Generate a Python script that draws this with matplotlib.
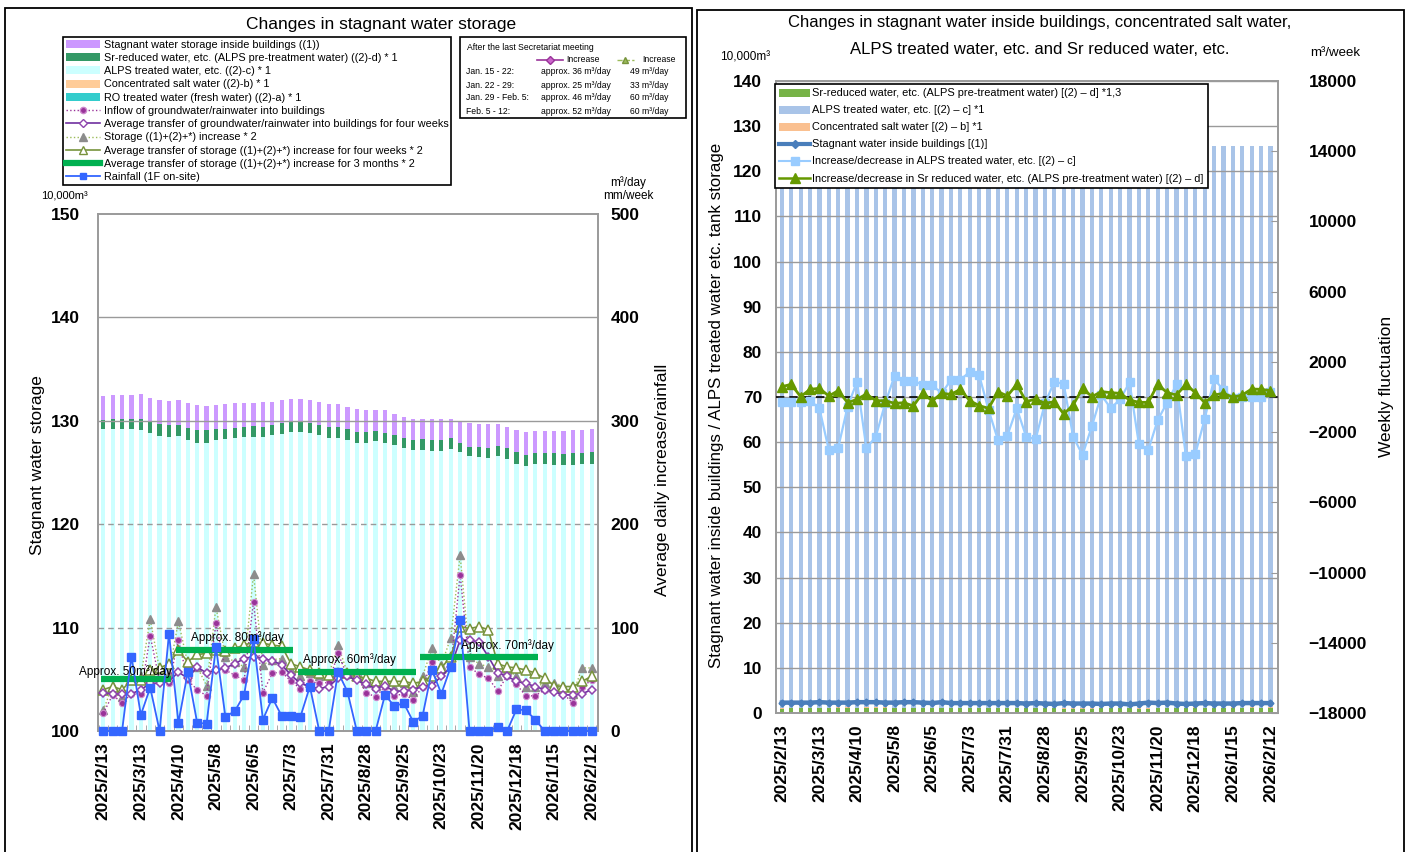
import numpy as np
import pandas as pd
import matplotlib
matplotlib.use('Agg')
import matplotlib.pyplot as plt
from matplotlib.patches import Rectangle, Patch
from matplotlib.lines import Line2D

# ---------------- data ----------------
weeks = pd.date_range('2025-02-13', periods=53, freq='7D')
tick_idx = list(range(0, 53, 4))
tick_labels = ['2025/2/13', '2025/3/13', '2025/4/10', '2025/5/8', '2025/6/5', '2025/7/3',
               '2025/7/31', '2025/8/28', '2025/9/25', '2025/10/23', '2025/11/20',
               '2025/12/18', '2026/1/15', '2026/2/12']

# storage, 10,000 m3
ro_water = [0.1] * 53
conc_salt = [0.1] * 53
alps = [129.0, 129.0, 129.0, 129.0, 128.9, 128.6, 128.3, 128.2, 128.3, 127.9,
        127.7, 127.7, 127.9, 128.0, 128.1, 128.2, 128.2, 128.2, 128.4, 128.5,
        128.7, 128.7, 128.6, 128.4, 128.1, 128.1, 127.9, 127.7, 127.7, 127.8,
        127.7, 127.5, 127.2, 127.0, 127.0, 126.9, 126.9, 127.1, 126.8, 126.4,
        126.3, 126.2, 126.4, 126.1, 125.6, 125.4, 125.6, 125.6, 125.5, 125.5,
        125.5, 125.6, 125.6]
sr_water = [0.9, 1.0, 1.0, 1.0, 1.1, 1.1, 1.2, 1.2, 1.1, 1.2,
            1.2, 1.2, 1.1, 1.0, 1.0, 1.0, 1.1, 1.0, 1.0, 1.1,
            1.0, 1.0, 1.0, 1.0, 1.1, 1.1, 1.1, 1.0, 1.0, 1.0,
            0.9, 0.9, 0.9, 0.9, 1.0, 1.0, 1.0, 1.0, 0.9, 0.9,
            1.0, 1.0, 1.0, 1.1, 1.2, 1.1, 1.1, 1.1, 1.2, 1.1,
            1.2, 1.1, 1.2]
stagnant = [2.3, 2.3, 2.3, 2.3, 2.4, 2.3, 2.3, 2.3, 2.4, 2.4,
            2.4, 2.3, 2.3, 2.4, 2.4, 2.3, 2.2, 2.4, 2.2, 2.2,
            2.2, 2.2, 2.2, 2.2, 2.2, 2.2, 2.1, 2.2, 2.1, 2.0,
            2.2, 2.1, 2.1, 2.1, 2.0, 2.1, 2.1, 1.9, 2.1, 2.3,
            2.2, 2.3, 2.1, 2.0, 2.1, 2.2, 2.1, 2.1, 2.1, 2.2,
            2.2, 2.2, 2.2]

# m3/day, mm/week
inflow = [17, 35, 27, 36, 36, 92, 48, 46, 88, 49, 40, 34, 104, 59, 54, 49, 125, 37, 56, 57,
          48, 41, 48, 46, 47, 75, 53, 53, 37, 33, 43, 34, 36, 30, 43, 67, 54, 62, 151, 62,
          55, 51, 39, 53, 45, 34, 34, 40, 40, 36, 27, 43, 49]
inflow_avg = [37, 36, 36, 36, 40, 46, 46, 48, 57, 51, 62, 56, 59, 61, 65, 70, 72, 70, 68, 64,
              54, 46, 43, 41, 43, 51, 53, 49, 45, 41, 44, 38, 39, 40, 43, 44, 53, 62, 88, 88,
              86, 72, 56, 53, 48, 46, 43, 40, 38, 35, 35, 36, 40]
storage_inc = [20, 44, 33, 49, 53, 108, 59, 56, 106, 65, 62, 44, 120, 72, 67, 62, 152, 64, 69, 70,
               59, 53, 56, 53, 54, 83, 56, 57, 46, 44, 49, 43, 46, 38, 53, 80, 64, 90, 170, 72,
               65, 62, 53, 59, 53, 43, 43, 46, 46, 44, 36, 61, 61]
storage_avg = [40, 43, 40, 49, 49, 59, 61, 65, 78, 67, 74, 75, 78, 77, 80, 83, 86, 85, 83, 82,
               65, 62, 59, 56, 54, 56, 56, 53, 51, 48, 48, 48, 48, 46, 48, 53, 61, 72, 101, 99,
               101, 98, 65, 62, 61, 59, 56, 51, 44, 43, 43, 48, 53]
rainfall = [0, 0, 0, 72, 15.5, 42, 0, 94, 8, 57, 8, 7, 81.5, 14, 19, 35, 89, 11, 32, 14.5,
            14.5, 14, 43, 0, 0, 57, 38, 0, 0, 0, 35, 24, 27, 9, 14.5, 59, 36, 62, 107, 0,
            0, 0, 4, 0, 21, 20, 11, 0, 0, 0, 0, 0, 0]
q3_start = [0, 8, 21, 34]
q3_end = [7, 20, 33, 46]
q3_value = [50, 78, 57, 72]
q3_labels = ['Approx. 50m³/day', 'Approx. 80m³/day', 'Approx. 60m³/day', 'Approx. 70m³/day']

# m3/week
alps_delta = [-266, -266, -266, -209, -645, -3019, -2886, -551, 873, -2924,
              -2259, -361, 1215, 911, 930, 684, 684, 209, 968, 968,
              1443, 1253, -740, -2449, -2202, -645, -2259, -2411, -361, 873,
              740, -2259, -3304, -1652, 114, -645, -133, 835, -2696, -3019,
              -1310, -323, 740, -3361, -3247, -1253, 1025, 399, -76, 19,
              19, 19, 304]
sr_delta = [589, 721, 19, 437, 494, 57, 361, -323, -133, 171,
            -209, -209, -361, -323, -513, 247, -228, 209, 152, 437,
            -209, -494, -645, 304, 57, 721, -266, -114, -361, -266,
            -968, -456, 494, 19, 304, 247, 209, -171, -304, -304,
            721, 247, 114, 721, 247, -323, 114, 209, -19, 114,
            456, 437, 361]

table_rows = ['Jan. 15 - 22:', 'Jan. 22 - 29:', 'Jan. 29 - Feb. 5:', 'Feb. 5 - 12:']
table_inflow = ['approx. 36 m³/day', 'approx. 25 m³/day', 'approx. 46 m³/day', 'approx. 52 m³/day']
table_storage = ['49 m³/day', '33 m³/day', '60 m³/day', '60 m³/day']

# ---------------- style ----------------
plt.rcParams['font.family'] = ['Liberation Sans', 'DejaVu Sans']
NARROW = ['Liberation Sans Narrow', 'Liberation Sans', 'DejaVu Sans']
W, H = 1411, 852
fig = plt.figure(figsize=(W / 100, H / 100), dpi=100)


def fx(px):
    return px / W


def fy(py):
    return 1 - py / H


# panel frames
fig.add_artist(Rectangle((fx(5), -0.02), fx(692) - fx(5), fy(8) + 0.02,
                         transform=fig.transFigure, fill=False, ec='black', lw=1.3))
fig.add_artist(Rectangle((fx(697), -0.02), fx(1404) - fx(697), fy(10) + 0.02,
                         transform=fig.transFigure, fill=False, ec='black', lw=1.3))

x = np.arange(53)
bw = 0.45
grey = '#9a9a9a'

# ================= LEFT CHART =================
axL = fig.add_axes([fx(98), fy(731), (598 - 98) / W, (731 - 214) / H])
ro_a = np.array(ro_water)
cs_a = np.array(conc_salt)
al_a = np.array(alps)
sr_a = np.array(sr_water)
st_a = np.array(stagnant)
axL.bar(x, ro_a, bw, color='#33cccc', zorder=2)
axL.bar(x, cs_a, bw, bottom=ro_a, color='#ffcc99', zorder=2)
axL.bar(x, al_a, bw, bottom=ro_a + cs_a, color='#ccffff', zorder=2)
axL.bar(x, sr_a, bw, bottom=ro_a + cs_a + al_a, color='#339966', zorder=2)
axL.bar(x, st_a, bw, bottom=ro_a + cs_a + al_a + sr_a, color='#cc99ff', zorder=2)
axL.set_ylim(100, 150)
axL.set_xlim(-0.56, 52.68)
for yv in (130, 140):
    axL.axhline(yv, color=grey, lw=1, zorder=3)
for yv in (110, 120):
    axL.axhline(yv, color=grey, lw=1, ls=(0, (4, 3)), zorder=3)
axL.set_yticks(range(100, 151, 10))
axL.tick_params(axis='y', length=0, pad=13, labelsize=12.5)
for t in axL.get_yticklabels():
    t.set_fontweight('bold')
axL.set_xticks(tick_idx)
axL.set_xticklabels(tick_labels, rotation=90, fontsize=12.5, fontweight='bold')
axL.set_xticks(np.arange(-0.5, 53, 1), minor=True)
axL.tick_params(axis='x', which='major', length=0, pad=8)
axL.tick_params(axis='x', which='minor', direction='in', length=4, color=grey)
for s in axL.spines.values():
    s.set_color(grey)
    s.set_linewidth(1.2)

axL2 = axL.twinx()
axL2.set_ylim(0, 500)
axL2.set_yticks(range(0, 501, 100))
axL2.tick_params(axis='y', length=0, pad=9, labelsize=12.5)
for t in axL2.get_yticklabels():
    t.set_fontweight('bold')
for s in axL2.spines.values():
    s.set_color(grey)
    s.set_linewidth(1.2)

axL2.plot(x, storage_inc, color='#9bbb59', lw=1, ls=':', marker='^', ms=5.5,
          mfc='#8c8c8c', mec='#8c8c8c', zorder=4)
axL2.plot(x, inflow, color='#993399', lw=1, ls=':', marker='o', ms=4.5,
          mfc='#993399', mec='#cc88cc', mew=0.8, zorder=5)
axL2.plot(x, storage_avg, color='#77933c', lw=1.2, marker='^', ms=6.5,
          mfc='white', mec='#77933c', mew=1.1, zorder=5)
axL2.plot(x, inflow_avg, color='#7030a0', lw=1.2, marker='D', ms=4.5,
          mfc='white', mec='#8e44ad', mew=1.1, zorder=6)
for s0, s1, v in zip(q3_start, q3_end, q3_value):
    axL2.plot([s0 - 0.25, s1 + 0.25], [v, v], color='#00b050', lw=4.5,
              solid_capstyle='butt', zorder=7)
label_dx = [-11, 3, -7, 29]
label_dy = [8, 13, 12, 11]
for s0, s1, v, lab, dx, dy in zip(q3_start, q3_end, q3_value, q3_labels, label_dx, label_dy):
    axL2.annotate(lab, ((s0 + s1) / 2, v), xytext=(dx * 0.72, dy * 0.72),
                  textcoords='offset points', ha='center', va='center',
                  fontsize=8.5, zorder=9)
axL2.plot(x, rainfall, color='#3366ff', lw=1.3, marker='s', ms=5.5,
          mfc='#3366ff', mec='#3366ff', zorder=8, clip_on=False)

# left titles / labels
fig.text(fx(381), fy(24), 'Changes in stagnant water storage', ha='center', va='center',
         fontsize=12.5, family=NARROW)
fig.text(fx(64), fy(196), '10,000m³', ha='center', va='center', fontsize=8, family=NARROW)
fig.text(fx(628), fy(183), 'm³/day', ha='center', va='center', fontsize=8.5, family=NARROW)
fig.text(fx(628), fy(196), 'mm/week', ha='center', va='center', fontsize=8.5, family=NARROW)
fig.text(fx(38), fy(465), 'Stagnant water storage', ha='center', va='center', rotation=90,
         fontsize=12.5, family=NARROW)
fig.text(fx(663), fy(480), 'Average daily increase/rainfall', ha='center', va='center',
         rotation=90, fontsize=12.5, family=NARROW)

# left legend
hL = [Patch(facecolor='#cc99ff'), Patch(facecolor='#339966'), Patch(facecolor='#ccffff'),
      Patch(facecolor='#ffcc99'), Patch(facecolor='#33cccc'),
      Line2D([], [], color='#993399', lw=1, ls=':', marker='o', ms=4.5, mfc='#993399', mec='#cc88cc'),
      Line2D([], [], color='#7030a0', lw=1.2, marker='D', ms=4.5, mfc='white', mec='#8e44ad'),
      Line2D([], [], color='#9bbb59', lw=1, ls=':', marker='^', ms=5.5, mfc='#8c8c8c', mec='#8c8c8c'),
      Line2D([], [], color='#77933c', lw=1.2, marker='^', ms=6, mfc='white', mec='#77933c'),
      Line2D([], [], color='#00b050', lw=4.5),
      Line2D([], [], color='#3366ff', lw=1.3, marker='s', ms=5, mfc='#3366ff', mec='#3366ff')]
lL = ['Stagnant water storage inside buildings ((1))',
      'Sr-reduced water, etc. (ALPS pre-treatment water) ((2)-d) * 1',
      'ALPS treated water, etc. ((2)-c) * 1',
      'Concentrated salt water ((2)-b) * 1',
      'RO treated water (fresh water) ((2)-a) * 1',
      'Inflow of groundwater/rainwater into buildings',
      'Average transfer of groundwater/rainwater into buildings for four weeks',
      'Storage ((1)+(2)+*) increase * 2',
      'Average transfer of storage ((1)+(2)+*) increase for four weeks * 2',
      'Average transfer of storage ((1)+(2)+*) increase for 3 months * 2',
      'Rainfall (1F on-site)']
legL = fig.legend(hL, lL, loc='upper left', bbox_to_anchor=(fx(63), fy(37)),
                  bbox_transform=fig.transFigure, frameon=True, fancybox=False,
                  edgecolor='black', framealpha=1, prop=dict(family=NARROW, size=7.8),
                  handlelength=3.2, handleheight=0.75, handletextpad=0.3,
                  labelspacing=0.3, borderpad=0.25, borderaxespad=0)
legL.get_frame().set_linewidth(1.2)

# inset table
fig.add_artist(Rectangle((fx(460), fy(118)), fx(686) - fx(460), fy(37) - fy(118),
                         transform=fig.transFigure, fill=False, ec='black', lw=1.2))
tprop = dict(fontsize=6.2, family=NARROW, va='center')
fig.text(fx(467), fy(47), 'After the last Secretariat meeting', **tprop)
fig.add_artist(Line2D([fx(537), fx(563)], [fy(60), fy(60)], transform=fig.transFigure,
                      color='#993399', lw=1.2))
fig.add_artist(Line2D([fx(550)], [fy(60)], transform=fig.transFigure, color='#993399',
                      marker='D', ms=4, mfc='#cc66cc', mec='#993399'))
fig.text(fx(566), fy(60), 'Increase', **tprop)
fig.add_artist(Line2D([fx(617), fx(634)], [fy(60), fy(60)], transform=fig.transFigure,
                      color='#9bbb59', lw=1, ls='--'))
fig.add_artist(Line2D([fx(625)], [fy(60)], transform=fig.transFigure, color='#9bbb59',
                      marker='^', ms=5, mfc='#9bbb59', mec='#77933c'))
fig.text(fx(642), fy(60), 'Increase', **tprop)
for i, (r, a, b) in enumerate(zip(table_rows, table_inflow, table_storage)):
    yy = 72 + 13 * i
    fig.text(fx(466), fy(yy), r, **tprop)
    fig.text(fx(541), fy(yy), a, **tprop)
    fig.text(fx(630), fy(yy), b, **tprop)

# ================= RIGHT CHART =================
axR = fig.add_axes([fx(776), fy(713), (1278 - 776) / W, (713 - 81) / H])
axR.bar(x, al_a, bw, color='#a9c4e8', zorder=2)
axR.bar(x, sr_a, bw, color='#77b347', zorder=2.2)
axR.bar(x, cs_a, bw, bottom=sr_a, color='#fac090', zorder=2.2)
axR.set_ylim(0, 140)
axR.set_xlim(-0.62, 52.8)
for yv in range(10, 141, 10):
    axR.axhline(yv, color=grey, lw=1, zorder=2.5)
axR.plot(x, stagnant, color='#4a7ebb', lw=3.2, marker='D', ms=3.5, zorder=4)
axR.set_yticks(range(0, 141, 10))
axR.tick_params(axis='y', length=0, pad=10, labelsize=12.5)
for t in axR.get_yticklabels():
    t.set_fontweight('bold')
axR.set_xticks(tick_idx)
axR.set_xticklabels(tick_labels, rotation=90, fontsize=12.5, fontweight='bold')
axR.tick_params(axis='x', length=0, pad=8)
for s in axR.spines.values():
    s.set_color(grey)
    s.set_linewidth(1.2)

axR2 = axR.twinx()
axR2.set_ylim(-18000, 18000)
axR2.set_yticks(range(-18000, 18001, 4000))
axR2.tick_params(axis='y', direction='in', length=5, color=grey, pad=22, labelsize=12.5)
for t in axR2.get_yticklabels():
    t.set_fontweight('bold')
for s in axR2.spines.values():
    s.set_color(grey)
    s.set_linewidth(1.2)
axR2.axhline(0, color='black', lw=1.2, ls=(0, (5, 3)), zorder=3)
axR2.plot(x, alps_delta, color='#99ccff', lw=1.6, marker='s', ms=5.5,
          mfc='#99ccff', mec='#99ccff', zorder=4)
axR2.plot(x, sr_delta, color='#669900', lw=2, marker='^', ms=6.5,
          mfc='#669900', mec='#669900', zorder=5)

fig.text(fx(1040), fy(23), 'Changes in stagnant water inside buildings, concentrated salt water,',
         ha='center', va='center', fontsize=12, family=NARROW)
fig.text(fx(1040), fy(49), 'ALPS treated water, etc. and Sr reduced water, etc.',
         ha='center', va='center', fontsize=12, family=NARROW)
fig.text(fx(745), fy(58), '10,000m³', ha='center', va='center', fontsize=8.5, family=NARROW)
fig.text(fx(1335), fy(53), 'm³/week', ha='center', va='center', fontsize=9.5, family=NARROW)
fig.text(fx(716), fy(405), 'Stagnant water inside buildings / ALPS treated water etc. tank storage',
         ha='center', va='center', rotation=90, fontsize=12.2, family=NARROW)
fig.text(fx(1387), fy(386), 'Weekly fluctuation', ha='center', va='center', rotation=90,
         fontsize=12.5, family=NARROW)

hR = [Patch(facecolor='#77b347'), Patch(facecolor='#a9c4e8'), Patch(facecolor='#fac090'),
      Line2D([], [], color='#4a7ebb', lw=3, marker='D', ms=4),
      Line2D([], [], color='#99ccff', lw=1.5, marker='s', ms=6, mfc='#99ccff', mec='#99ccff'),
      Line2D([], [], color='#669900', lw=1.8, marker='^', ms=6.5, mfc='#669900', mec='#669900')]
lR = ['Sr-reduced water, etc. (ALPS pre-treatment water) [(2) – d] *1,3',
      'ALPS treated water, etc. [(2) – c] *1',
      'Concentrated salt water [(2) – b] *1',
      'Stagnant water inside buildings [(1)]',
      'Increase/decrease in ALPS treated water, etc. [(2) – c]',
      'Increase/decrease in Sr reduced water, etc. (ALPS pre-treatment water) [(2) – d]']
legR = fig.legend(hR, lR, loc='upper left', bbox_to_anchor=(fx(775), fy(84)),
                  bbox_transform=fig.transFigure, frameon=True, fancybox=False,
                  edgecolor='black', framealpha=1, prop=dict(family=NARROW, size=7.9),
                  handlelength=2.8, handleheight=0.75, handletextpad=0.2,
                  labelspacing=0.64, borderpad=0.4, borderaxespad=0)
legR.get_frame().set_linewidth(1.2)

fig.savefig('out.png', dpi=100)
